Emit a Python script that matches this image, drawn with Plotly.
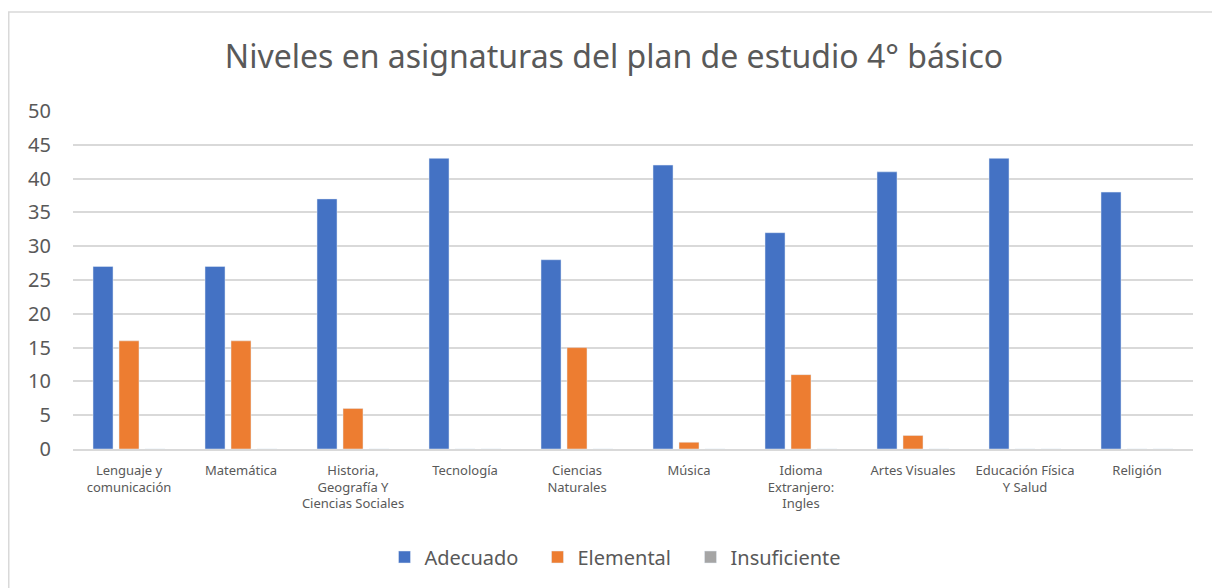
import plotly.graph_objects as go

categories = [
    "Lenguaje y<br>comunicación",
    "Matemática",
    "Historia,<br>Geografía Y<br>Ciencias Sociales",
    "Tecnología",
    "Ciencias<br>Naturales",
    "Música",
    "Idioma<br>Extranjero:<br>Ingles",
    "Artes Visuales",
    "Educación Física<br>Y Salud",
    "Religión",
]
adecuado = [27, 27, 37, 43, 28, 42, 32, 41, 43, 38]
elemental = [16, 16, 6, 0, 15, 1, 11, 2, 0, 0]
insuficiente = [0, 0, 0, 0, 0, 0, 0, 0, 0, 0]
y_ticks = [0, 5, 10, 15, 20, 25, 30, 35, 40, 45, 50]

FONT = "Noto Sans"
GREY = "#595959"

W, H = 1212, 580
L, R, T, B = 65, 27, 103, 139
PW, PH = W - L - R, H - T - B

fig = go.Figure()
fig.add_trace(go.Bar(name="Adecuado", x=categories, y=adecuado, marker_color="#4472C4"))
fig.add_trace(go.Bar(name="Elemental", x=categories, y=elemental, marker_color="#ED7D31"))
fig.add_trace(go.Bar(name="Insuficiente", x=categories, y=insuficiente, marker_color="#A5A5A5"))

fig.update_layout(
    width=W,
    height=H,
    margin=dict(l=L, r=R, t=T, b=B, autoexpand=False),
    paper_bgcolor="white",
    plot_bgcolor="white",
    barmode="group",
    bargap=0.304,
    bargroupgap=0.23,
    font=dict(family=FONT, color=GREY),
    title=dict(
        text="Niveles en asignaturas del plan de estudio 4° básico",
        x=0.5, xanchor="center",
        y=1 - 49 / H, yanchor="middle",
        font=dict(family=FONT, size=32, color=GREY),
    ),
    xaxis=dict(
        showgrid=False,
        showline=True,
        linecolor="#D9D9D9",
        linewidth=2,
        ticks="",
        tickfont=dict(family=FONT, size=13, color=GREY),
        tickangle=0,
        ticklabelstandoff=8,
        automargin=False,
    ),
    yaxis=dict(
        range=[0, 50],
        tickvals=y_ticks,
        showgrid=True,
        gridcolor="#D9D9D9",
        gridwidth=1.5,
        zeroline=False,
        showline=False,
        ticks="",
        tickfont=dict(family=FONT, size=20, color=GREY),
        ticklabelstandoff=21,
        automargin=False,
    ),
    legend=dict(
        orientation="h",
        x=0.5 - 19 / PW, xanchor="center",
        y=(PH - (549 - T)) / PH, yanchor="middle",
        font=dict(family=FONT, size=20, color=GREY),
        entrywidth=108,
        itemclick=False,
    ),
    shapes=[
        dict(
            type="rect", xref="paper", yref="paper",
            x0=(0.75 - L) / PW, x1=(W + 10 - L) / PW,
            y0=(T + PH - (H + 10)) / PH, y1=(T + PH - 4) / PH,
            line=dict(color="#D9D9D9", width=1.5),
            fillcolor="rgba(0,0,0,0)",
            layer="below",
        )
    ],
)

fig.write_html("out.html")
